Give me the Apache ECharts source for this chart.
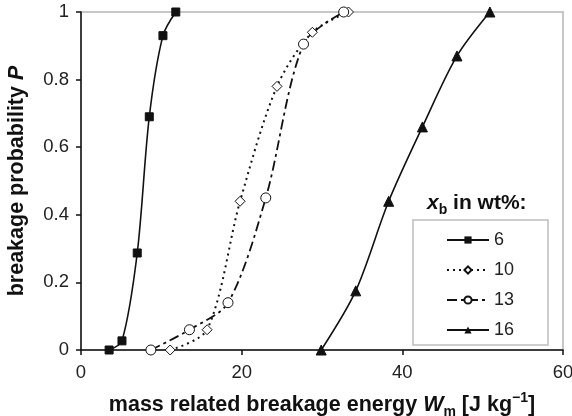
<!DOCTYPE html>
<html>
<head>
<meta charset="utf-8">
<script src="https://cdn.jsdelivr.net/npm/echarts@6/dist/echarts.min.js"></script>
<style>
  html, body { margin: 0; padding: 0; background: #fff; }
  #chart { width: 572px; height: 416px; }
</style>
</head>
<body>
<div id="chart"></div>
<script>
// breakage energy W_m [J/kg] vs breakage probability P, per binder content
const seriesNames = ['6', '10', '13', '16']
const w6 = [3.5, 5.1, 7.0, 8.5, 10.2, 11.8]
const p6 = [0, 0.027, 0.287, 0.69, 0.93, 1.0]
const w10 = [11.1, 15.7, 19.8, 24.4, 28.8, 33.3]
const p10 = [0, 0.06, 0.44, 0.78, 0.94, 1.0]
const w13 = [8.7, 13.5, 18.3, 23.0, 27.7, 32.7]
const p13 = [0, 0.06, 0.14, 0.45, 0.905, 1.0]
const w16 = [29.9, 34.2, 38.3, 42.5, 46.8, 50.9]
const p16 = [0, 0.175, 0.44, 0.66, 0.87, 1.0]

const xTicks = [0, 20, 40, 60]
const yTicks = [0, 0.2, 0.4, 0.6, 0.8, 1]

const zip = (xs, ys) => xs.map((x, i) => [x, ys[i]])

const font = 'Liberation Sans, Arial, sans-serif'
const ink = '#111'

const chart = echarts.init(document.getElementById('chart'))

const baseSeries = {
  type: 'line',
  smooth: 0.3,
  color: ink,
  itemStyle: { color: ink, borderColor: ink },
}

const titleRich = {
  b: { fontSize: 21.5, fontWeight: 'bold', color: '#111', lineHeight: 28, verticalAlign: 'middle' },
  bi: { fontSize: 21.5, fontWeight: 'bold', fontStyle: 'italic', color: '#111', lineHeight: 28, verticalAlign: 'middle' },
  sub: { fontSize: 14, fontWeight: 'bold', color: '#111', verticalAlign: 'bottom', lineHeight: 28 },
  sup: { fontSize: 14, fontWeight: 'bold', color: '#111', verticalAlign: 'top', lineHeight: 28 },
}

const option = {
  animation: false,
  textStyle: { fontFamily: font },
  grid: {
    left: 81, right: 9, top: 12, bottom: 66,
    containLabel: false,
    outerBoundsMode: 'none',
    show: true, borderColor: '#b5b5b5', borderWidth: 1.5,
  },
  xAxis: {
    type: 'value',
    min: 0, max: 60, interval: 20,
    axisLine: { lineStyle: { color: ink, width: 1.5 } },
    axisTick: { show: true, length: 5, lineStyle: { color: ink, width: 1.5 } },
    axisLabel: {
      color: '#222', fontSize: 18.5, margin: 13,
      formatter: v => (xTicks.includes(v) ? String(v) : ''),
    },
    splitLine: { show: false },
    name: '{b|mass related breakage energy }{bi|W}{sub|m}{b| [J kg}{sup|−1}{b|]}',
    nameLocation: 'middle',
    nameGap: 41,
    nameTextStyle: { rich: titleRich },
  },
  yAxis: {
    type: 'value',
    min: 0, max: 1, interval: 0.2,
    axisLine: { show: true, lineStyle: { color: ink, width: 1.5 } },
    axisTick: { show: true, length: 5, lineStyle: { color: ink, width: 1.5 } },
    axisLabel: {
      color: '#222', fontSize: 18.5, margin: 12,
      formatter: v => {
        const t = yTicks.find(y => Math.abs(y - v) < 1e-6)
        return t === undefined ? '' : String(t)
      },
    },
    splitLine: { show: false },
    name: '{b|breakage probability }{bi|P}',
    nameLocation: 'middle',
    nameGap: 50,
    nameTextStyle: { rich: titleRich },
  },
  legend: {
    orient: 'vertical',
    left: 413, top: 220,
    padding: [11, 34, 6, 33],
    itemGap: 12,
    itemWidth: 42,
    itemHeight: 9,
    borderColor: '#bdbdbd',
    borderWidth: 1.5,
    textStyle: { fontSize: 18, color: '#222', fontFamily: font },
    data: seriesNames,
  },
  graphic: [
    {
      type: 'text',
      left: 427, top: 193,
      style: {
        text: '{i|x}{s|b}{t| in wt%:}',
        rich: {
          i: { fontSize: 21, fontWeight: 'bold', fontStyle: 'italic', fill: '#111', fontFamily: font, lineHeight: 28, verticalAlign: 'middle' },
          s: { fontSize: 14, fontWeight: 'bold', fill: '#111', fontFamily: font, lineHeight: 28, verticalAlign: 'bottom' },
          t: { fontSize: 21, fontWeight: 'bold', fill: '#111', fontFamily: font, lineHeight: 28, verticalAlign: 'middle' },
        },
      },
    },
  ],
  series: [
    {
      ...baseSeries,
      name: seriesNames[0],
      data: zip(w6, p6),
      symbol: 'rect', symbolSize: 8,
      lineStyle: { color: ink, width: 1.6, type: 'solid' },
    },
    {
      ...baseSeries,
      name: seriesNames[1],
      data: zip(w10, p10),
      symbol: 'diamond', symbolSize: 10,
      itemStyle: { color: '#fff', borderColor: ink, borderWidth: 1 },
      lineStyle: { color: ink, width: 2, type: [2, 4] },
    },
    {
      ...baseSeries,
      name: seriesNames[2],
      data: zip(w13, p13),
      symbol: 'circle', symbolSize: 10,
      itemStyle: { color: '#fff', borderColor: ink, borderWidth: 1 },
      lineStyle: { color: ink, width: 1.8, type: [10, 4, 3, 4] },
    },
    {
      ...baseSeries,
      name: seriesNames[3],
      data: zip(w16, p16),
      symbol: 'triangle', symbolSize: 10,
      lineStyle: { color: ink, width: 1.6, type: 'solid' },
    },
  ],
}

chart.setOption(option)
</script>
</body>
</html>
